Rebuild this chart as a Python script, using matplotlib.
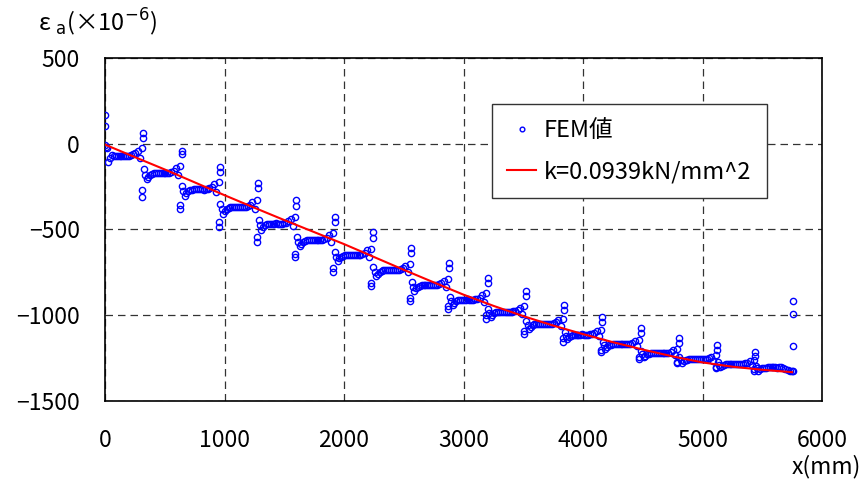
import matplotlib
matplotlib.use("Agg")
import matplotlib.pyplot as plt

plt.rcParams['font.family'] = ['Noto Sans CJK JP', 'DejaVu Sans']
plt.rcParams['mathtext.fontset'] = 'dejavusans'

# ---- data -------------------------------------------------------------
seg_starts = [0, 320, 640, 960, 1280, 1600, 1920, 2240, 2560, 2880,
              3200, 3520, 3840, 4160, 4480, 4800, 5120, 5440]
local_x = [6, 16, 28, 42, 58, 74, 90, 106, 122, 138,
           154, 170, 186, 202, 218, 234, 254, 274, 292, 310]

seg_y = [
    [-20, -25, -105, -85, -66, -72, -74, -72, -71, -70, -70, -70, -69, -70, -67, -62, -55, -40, -84, -25],
    [-150, -182, -208, -192, -180, -174, -172, -170, -170, -171, -170, -169, -170, -170, -168, -164, -156, -140, -184, -128],
    [-248, -278, -304, -288, -276, -270, -268, -266, -266, -266, -265, -266, -267, -266, -264, -260, -252, -236, -280, -224],
    [-350, -380, -407, -391, -379, -373, -371, -369, -369, -368, -369, -370, -369, -369, -367, -363, -355, -339, -383, -327],
    [-447, -476, -502, -487, -475, -470, -468, -466, -466, -466, -465, -466, -467, -466, -464, -460, -453, -438, -480, -426],
    [-542, -571, -597, -582, -570, -565, -563, -561, -561, -560, -561, -562, -561, -561, -559, -555, -548, -533, -574, -521],
    [-631, -658, -683, -669, -658, -653, -651, -649, -649, -649, -648, -649, -650, -649, -647, -644, -636, -622, -662, -611],
    [-719, -746, -771, -757, -746, -741, -739, -737, -737, -737, -736, -737, -738, -737, -735, -732, -724, -710, -750, -699],
    [-807, -833, -856, -843, -833, -828, -826, -824, -824, -824, -823, -824, -825, -824, -822, -819, -812, -799, -836, -788],
    [-892, -918, -941, -928, -918, -913, -911, -909, -909, -909, -908, -909, -910, -909, -907, -904, -897, -884, -921, -873],
    [-964, -988, -1010, -998, -988, -983, -982, -980, -980, -980, -979, -980, -981, -980, -978, -975, -969, -956, -991, -946],
    [-1035, -1058, -1078, -1066, -1058, -1053, -1052, -1050, -1050, -1050, -1049, -1050, -1051, -1050, -1049, -1046, -1040, -1028, -1060, -1019],
    [-1099, -1120, -1140, -1128, -1120, -1116, -1114, -1113, -1113, -1113, -1112, -1113, -1114, -1113, -1112, -1109, -1103, -1092, -1123, -1084],
    [-1156, -1176, -1194, -1183, -1176, -1172, -1170, -1169, -1169, -1169, -1168, -1169, -1170, -1169, -1168, -1165, -1160, -1150, -1178, -1142],
    [-1210, -1228, -1245, -1235, -1228, -1224, -1223, -1222, -1222, -1222, -1221, -1222, -1223, -1222, -1221, -1218, -1214, -1204, -1230, -1197],
    [-1246, -1263, -1278, -1269, -1263, -1259, -1258, -1257, -1257, -1257, -1256, -1257, -1258, -1257, -1256, -1254, -1249, -1241, -1265, -1234],
    [-1274, -1289, -1303, -1295, -1289, -1286, -1285, -1284, -1284, -1284, -1283, -1284, -1285, -1284, -1283, -1281, -1277, -1269, -1291, -1263],
    [-1294, -1309, -1323, -1315, -1309, -1306, -1305, -1304, -1304, -1304, -1303, -1304, -1305, -1304, -1303, -1306, -1312, -1318, -1323, -1323],
]

# spikes at segment boundaries
bound_x = [320, 640, 960, 1280, 1600, 1920, 2240, 2560, 2880, 3200,
           3520, 3840, 4160, 4480, 4800, 5120, 5440]
high1 = [61, -40, -134, -231, -328, -425, -513, -610, -697, -785,
         -860, -940, -1013, -1076, -1135, -1173, -1212]
high2 = [32, -60, -163, -260, -363, -455, -551, -639, -726, -814,
         -885, -969, -1040, -1105, -1164, -1202, -1238]
low1 = [-270, -357, -455, -546, -643, -726, -814, -901, -946, -999,
        -1090, -1134, -1203, -1245, -1270, -1309, -1323]
low2 = [-308, -382, -484, -571, -662, -746, -829, -915, -965, -1023,
        -1110, -1154, -1212, -1255, -1280, -1300, -1315]

# isolated points at the two ends
end_x = [0, 0, 0, 5755, 5755, 5755, 5755]
end_y = [167, 105, -7, -915, -995, -1177, -1323]

# fitted curve
curve_x = [0, 250, 500, 750, 1000, 1250, 1500, 1750, 2000, 2250, 2500, 2750,
           3000, 3250, 3500, 3750, 4000, 4250, 4500, 4750, 5000, 5250, 5500, 5750]
curve_y = [-5, -78, -150, -225, -300, -373, -445, -515, -585, -660, -735, -808,
           -880, -945, -1005, -1060, -1110, -1157, -1200, -1240, -1275, -1300, -1318, -1332]

# ---- assemble scatter --------------------------------------------------
fx, fy = [], []
for s, ys in zip(seg_starts, seg_y):
    for dx, v in zip(local_x, ys):
        fx.append(s + dx)
        fy.append(v)
for b, h1, h2, l1, l2 in zip(bound_x, high1, high2, low1, low2):
    fx += [b + 2, b + 2, b - 10, b - 10]
    fy += [h1, h2, l1, l2]
fx += end_x
fy += end_y

# ---- figure -----------------------------------------------------------
fig = plt.figure(figsize=(8.64, 4.84), dpi=100)
ax = fig.add_axes([105/864, 1-401/484, (822-105)/864, (401-58)/484])

ax.plot(fx, fy, linestyle='none', marker='o', markersize=4.5,
        markerfacecolor='none', markeredgecolor='#0000FF', markeredgewidth=1.0,
        label='FEM値', zorder=3)
ax.plot(curve_x, curve_y, color='#FF0000', lw=1.5, label='k=0.0939kN/mm^2', zorder=4)

ax.set_xlim(0, 6000)
ax.set_ylim(-1500, 500)
ax.set_xticks([0, 1000, 2000, 3000, 4000, 5000, 6000])
ax.set_yticks([-1500, -1000, -500, 0, 500])
ax.set_yticklabels(['−1500', '−1000', '−500', '0', '500'])
ax.grid(True, color='#333333', linestyle=(0, (6, 4)), linewidth=0.9, zorder=1)
ax.set_axisbelow(True)
ax.tick_params(length=0, labelsize=16.5)
ax.tick_params(axis='x', pad=20)
ax.tick_params(axis='y', pad=18)
for sp in ax.spines.values():
    sp.set_color('black')
    sp.set_linewidth(1.2)

leg = ax.legend(loc='upper left', bbox_to_anchor=((492-105)/717, (401-104)/343),
                fontsize=17, frameon=True, fancybox=False, framealpha=1,
                edgecolor='#333333', handlelength=1.2, handletextpad=0.35,
                borderpad=0.65, labelspacing=0.75, borderaxespad=0,
                markerscale=0.75)
leg.get_frame().set_linewidth(1.0)

fig.text(38/864, 1-22/484, r'ε $_{\mathrm{a}}$(×10$^{-6}$)', fontsize=17,
         ha='left', va='center')
fig.text(861/864, 1-467/484, 'x(mm)', fontsize=16.5, ha='right', va='center')

fig.savefig('out.png', dpi=100)
